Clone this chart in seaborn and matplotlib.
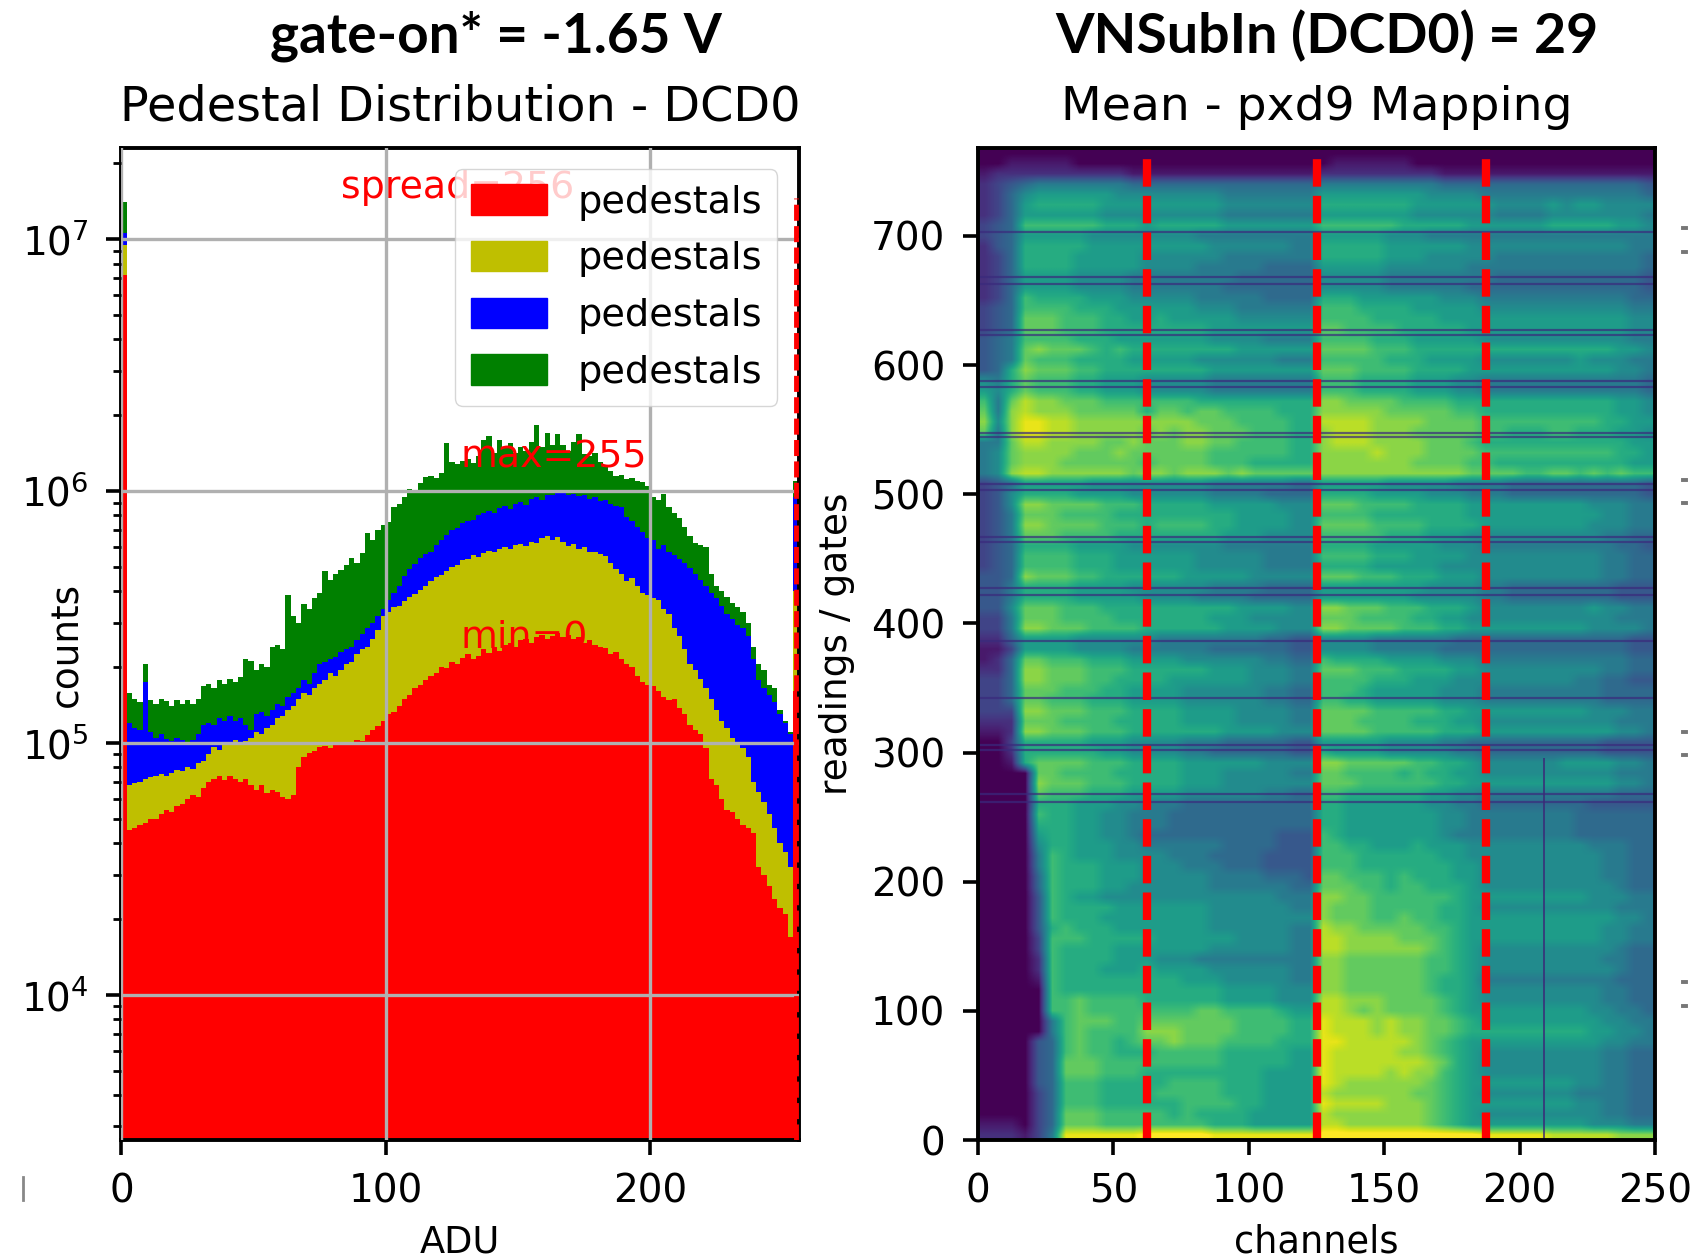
import numpy as np
import pandas as pd
import matplotlib.pyplot as plt
import seaborn as sns
from matplotlib.lines import Line2D

# stacked histogram, upper edge of each colour (thousands of counts)
# bins are 2 ADU wide: 0-2, 2-4 ... 254-256
red_top = [7200, 45, 46, 47, 48, 50, 50, 52, 54, 53, 56, 57, 60, 62, 61, 66, 70, 72, 74, 71, 74, 72, 70, 72, 68, 65, 68, 63, 65, 64, 61, 60, 62,
           80, 88, 91, 93, 96, 97, 95, 99, 101, 100, 98, 103, 102, 107, 112, 117, 122, 130, 132, 140, 150, 155, 165, 170, 178, 185, 190, 200, 198, 210, 205,
           218, 225, 215, 222, 235, 228, 240, 232, 245, 250, 240, 255, 258, 250, 262, 268, 258, 265, 272, 262, 268, 258, 262, 250, 255, 245, 240, 238, 225, 230,
           215, 205, 200, 185, 175, 170, 168, 160, 152, 148, 150, 138, 130, 118, 112, 108, 95, 72, 68, 60, 54, 53, 50, 47, 46, 44, 32, 30, 27, 24, 22, 21, 17, 160]
yellow_top = [9500, 68, 69, 70, 72, 73, 74, 75, 74, 76, 78, 77, 80, 79, 83, 85, 90, 96, 94, 98, 100, 103, 100, 102, 105, 110, 108, 115, 118, 125, 128, 135, 140,
              150, 158, 155, 165, 172, 178, 190, 185, 195, 205, 210, 225, 235, 240, 258, 280, 320, 330, 345, 350, 365, 380, 390, 405, 420, 440, 455, 465, 480, 500, 510,
              530, 535, 555, 545, 565, 580, 570, 590, 600, 590, 610, 615, 605, 630, 620, 650, 660, 640, 655, 625, 605, 615, 590, 600, 575, 570, 560, 550, 520, 490,
              470, 440, 450, 420, 395, 385, 375, 370, 340, 325, 285, 265, 235, 205, 195, 180, 165, 150, 135, 122, 115, 105, 98, 95, 88, 70, 64, 58, 52, 46, 40, 37, 32, 400]
blue_top = [10600, 120, 115, 112, 175, 110, 105, 108, 104, 102, 105, 103, 100, 103, 108, 118, 120, 118, 125, 122, 128, 122, 125, 118, 112, 130, 132, 128, 135, 142, 140, 152, 158,
            165, 178, 172, 190, 205, 210, 215, 220, 230, 235, 240, 255, 270, 285, 300, 320, 340, 370, 395, 420, 460, 490, 515, 540, 560, 575, 610, 640, 670, 700, 710,
            745, 760, 770, 805, 815, 830, 820, 855, 870, 850, 885, 905, 880, 930, 950, 925, 965, 960, 980, 985, 960, 975, 955, 965, 930, 945, 910, 920, 890, 870,
            860, 790, 760, 720, 690, 650, 640, 590, 610, 575, 555, 535, 520, 495, 470, 445, 420, 395, 375, 350, 325, 310, 295, 285, 265, 215, 178, 165, 155, 145, 130, 120, 108, 950]
green_top = [14000, 158, 150, 145, 205, 148, 142, 150, 146, 140, 148, 143, 148, 142, 150, 168, 172, 165, 178, 172, 180, 175, 182, 215, 212, 195, 205, 200, 240, 245, 235, 385, 320,
             300, 355, 340, 375, 395, 480, 445, 470, 485, 510, 540, 520, 565, 680, 640, 700, 730, 750, 860, 890, 950, 1020, 1010, 1080, 1140, 1150, 1130, 1180, 1550, 1300, 1280,
             1310, 1340, 1290, 1380, 1600, 1650, 1420, 1590, 1480, 1550, 1420, 1500, 1440, 1560, 1830, 1500, 1700, 1520, 1680, 1520, 1440, 1560, 1680, 1400, 1380, 1420, 1300, 1250, 1200, 1150,
             1160, 1120, 1130, 1100, 1090, 1050, 950, 920, 970, 860, 820, 780, 720, 660, 620, 610, 600, 470, 420, 400, 380, 360, 345, 330, 300, 240, 205, 195, 170, 165, 135, 122, 110, 1100]

# pedestal mean map, one hex digit per cell (0 dark, f bright)
# rows go from the top of the picture down, 8 gates each; cells are 5 channels wide
# groups: 0-15, 15-65, 65-125, 125-185, 185-250
mean_rows = [
    "000 0000000000 000000000000 000000000000 0000000000000",
    "001 1111000000 000000000000 011111100000 0000000000000",
    "122 2222222211 111111111111 222222222111 1111111111111",
    "234 5666666655 555555555555 666666666555 5555555555554",
    "235 7888888777 777776666666 888888887777 6666666666665",
    "235 8999998888 888887777777 999999988888 8777787887777",
    "235 8888887777 777776666666 888888877777 7666677777776",
    "345 aaaaaa9998 999998888888 aaaaaa999998 8888899999887",
    "345 8888877777 777666666666 888887776666 6666666666666",
    "245 9999988888 888877777766 999998888887 7777777777766",
    "235 9999888887 777776666666 999998887777 7666666666665",
    "235 9999888887 777666665555 888887777776 6666666666665",
    "235 8888777766 666666555555 777776666666 6555555555554",
    "235 8888777766 666665555555 777776666665 5555555555554",
    "235 a999988877 777666665555 999888888777 6666666666655",
    "345 aaaa999888 888777666666 aaa999988888 7777777777766",
    "345 bbbaaa9988 988888777777 aaaa99999888 8888888888877",
    "345 bbbaaa9999 999988888888 bbaaaa999998 8888888888877",
    "456 aaaa999888 888877776666 aaaa99988888 7777777777766",
    "456 bcbbba9a99 999999888888 bbbbaaa99999 9999999999887",
    "456 baaa999988 888777777666 aaaaa9998888 7777777877766",
    "459 cbbbaa9999 999988888888 bbbaaaa99998 8888888888776",
    "769 baaa998887 777766666666 aaa999988877 6666666666665",
    "879 baaa998887 777766666666 aaa999988877 6666666666665",
    "a6b dccbbbaaaa aaa999999999 ccbbbbaaaa99 9999999999887",
    "b6c dcccbbbbb9 bbabbaaaa999 cccccbbbbbaa 9999999999887",
    "c7c eeddcccccc cccbbbaaaa99 ddddccccbbbb aaaaaaaaa9988",
    "b6c eeddcccccb cbccbbbaaa99 cdddcccbbbbb aa999aa999887",
    "66b ddccccbbcb bbccbbaaaa99 cdddccccbbba 9999999999988",
    "67b ccccbbbcbb bbbbaaaaaa99 ccccdcccbbbb aaaaaaaaaa998",
    "67b cccbbbbbba bbbbaaa99999 cccccccbbbba a999999999988",
    "67c ddccccccbc cbcccbcbbbbb cccccccccccb bbbaabbababaa",
    "345 8888877777 777766666655 888887777766 6655555555554",
    "347 9999888877 777766665555 999988887776 6655555555554",
    "347 ccbbbbaaa9 999988888777 bbbaaaa99998 8888888877766",
    "346 bbbaaaa999 999999888877 aaaa99999998 8888888887766",
    "346 ccbbbbaaa9 aaaa99888877 bbbbaaaa9999 8888888877766",
    "346 bbbaaaa999 999998887777 aaaaa9998887 7777777776655",
    "345 9999888877 777776666666 999988888777 6666666666554",
    "345 aaaa999888 888777776666 aaaa99988887 7777777776655",
    "345 aaaa999888 888777776666 999988888777 7777777776655",
    "445 cbbbaa9999 998888877777 bbbaaa999888 7777777776655",
    "446 9999888877 777766665555 888888887777 6655555555444",
    "446 9999888887 777666655555 888888877777 6655555555444",
    "447 bbbaaa9999 999999888877 ccbbbaaa9998 7777777787766",
    "336 bbbaaaa999 999988877777 bbbaaaa99887 7777777777666",
    "336 ccbbbaaaa9 999998888777 ccbbbbaaa998 8888888877776",
    "225 8888777777 666666665544 777766666655 5555555555544",
    "113 8888777766 666655555544 777766666555 5555555555544",
    "125 bbaaa99988 887777776655 a99998888777 6666666666655",
    "225 ccbbbaaa99 999988877766 bbbaaa999988 7777777776655",
    "335 ccbbbaa999 988888877766 aaaa99988877 7777777665544",
    "335 bbbaaa9988 887777776655 aaa988888777 6666666665555",
    "335 bbaaa99988 887777776655 aa9988888777 6666666665555",
    "333 ccbbbaaa99 998888777766 bbbbaaaaa998 8888888877766",
    "222 bbbaaaa999 998888777766 bbbaaaa99988 7777777777666",
    "112 ccbbbaaa99 999998888777 bbbbaaaaa999 8888888888776",
    "003 9999988877 776665555544 888887777665 5555555554444",
    "002 9999998877 776655555544 988887777766 5555555554444",
    "001 9bbbbaaa99 998888887777 ccbbbbbaa998 7777778888776",
    "000 0bbaaaa999 998887777766 bbaaaa9a9988 7777777777666",
    "000 0cbbbaaa99 998887777777 bbbaaaaaa998 8888888888776",
    "000 0baaa99988 887777776655 aa9999998877 6666666666555",
    "000 0999888776 665555555555 998888887766 5555555544444",
    "000 0a99887766 655555555555 998888888776 6666666555555",
    "000 0999887766 655555555555 998888888776 6666666555555",
    "000 0899887765 555555555444 a98888888766 6666666555555",
    "000 0799888776 666665555444 aa9988898887 7777777766655",
    "000 06a9888777 766655554444 aaa999999887 7777777776655",
    "000 06a9998887 776665554444 aaa999999988 7777777776655",
    "000 05a9998887 777766665554 bbaaa9a99988 7777777776655",
    "000 05a9998877 777766666655 bbbaa9aa9998 7777777777655",
    "000 04a9887777 777777777666 ccbbaaaaaa98 8888888877766",
    "000 04a9999888 888877777766 cbbbaaaaa998 7777777777666",
    "000 04a9998888 888877777777 cbbbaabaa998 8888888888776",
    "000 049a999888 888877777766 dccbbbbbaa98 8888888887766",
    "000 03aaa99999 888888777766 ddccccbbba98 8888888887766",
    "000 03a9999888 888877777766 ddccccccba98 7777777777655",
    "000 02a9999888 777666666666 ccbbbbbbaa98 7777777776655",
    "000 02a9998889 888877777766 ccbbbbbbaa98 7777777777655",
    "000 01a9999999 998887777766 ccbbbbbba998 6666666666555",
    "000 00a9999999 999998888777 ccbbbbbba998 7777777776655",
    "000 00aabaaaa9 999998888777 ddcccbbbba98 7777777776655",
    "000 00aabaaaaa aaabbaaaa988 ddcbcbbbba98 8888888877665",
    "000 006abbbaab bbbbbbaaaa99 edddcdccbba9 8888888887766",
    "000 006abaaaac ccbbbbaaaa99 edddcdccbba9 9999999988776",
    "000 045abaa9ab bcbbbaaaa999 eedddddcba98 8888888887766",
    "000 045abaa999 aaaaa9999988 edddddccba98 7777777776655",
    "000 045bbbaaaa aaaaa9999988 edddddddcb98 7777777776655",
    "000 045bbbaaa9 999999998888 eddddcdcca98 7777777776655",
    "000 045aaa9999 9aaaa9998888 edccccccba98 8888888776655",
    "000 035aaa9999 aaaaa9998888 dccccccbba98 7777777666655",
    "000 035aaa9999 99aaaa998888 eddddcccba98 8888888776655",
    "000 035bbbaaaa a9a999988888 dcccccccba98 7777777776655",
    "111 035bbbaaaa aaaa99988888 ddccccccba98 8888888877766",
    "222 136eeeeeef ffffeeeeeeee ffffffffffff eeeeedddddccc",
]
dark_gates = [703, 668, 663, 627, 623, 588, 583, 547, 544, 508, 503, 467, 463, 427, 422, 386, 342, 306, 302, 268, 262]
section_channels = [62.5, 125, 187.5]
dead_channel = 209

adu_centers = np.arange(1, 256, 2)
tops = pd.DataFrame({'r': red_top, 'y': yellow_top, 'b': blue_top, 'g': green_top}) * 1000.0
counts = tops.diff(axis=1).fillna(tops)
counts['adu'] = adu_centers
hist_df = counts.melt(id_vars='adu', var_name='dcd', value_name='counts')

mean_map = np.array([[int(c, 16) for c in row.replace(' ', '')] for row in mean_rows])

plt.rcParams['font.family'] = 'DejaVu Sans'
plt.rcParams['font.size'] = 28
plt.rcParams['axes.linewidth'] = 2.8
plt.rcParams['xtick.major.size'] = 10.5
plt.rcParams['xtick.major.width'] = 2.6
plt.rcParams['ytick.major.size'] = 10.5
plt.rcParams['ytick.major.width'] = 2.6
plt.rcParams['ytick.minor.size'] = 6
plt.rcParams['ytick.minor.width'] = 2

W, H = 1698.0, 1260.0
fig = plt.figure(figsize=(16.98, 12.6), dpi=100)
ax1 = fig.add_axes([121.5 / W, 1 - 1140 / H, 677 / W, 992 / H])
ax2 = fig.add_axes([978 / W, 1 - 1140 / H, 677 / W, 992 / H])

# left panel
sns.histplot(data=hist_df, x='adu', weights='counts', hue='dcd', hue_order=['g', 'b', 'y', 'r'],
             palette={'r': 'r', 'y': 'y', 'b': 'b', 'g': 'g'}, multiple='stack', binwidth=2, binrange=(0, 256),
             element='step', alpha=1, linewidth=0, legend=False, ax=ax1)
ax1.set_yscale('log')
ax1.set_xlim(0, 256)
ax1.set_ylim(2650, 2.3e7)
ax1.set_xticks([0, 100, 200])
ax1.grid(True, color='#b0b0b0', linewidth=2.4)
ax1.set_axisbelow(False)
ax1.vlines(255, 2650, 1.45e7, color='r', linewidth=3.5, linestyle=(0, (3.3, 1.1)), zorder=3)
ax1.text(83, 1.45e7, 'spread=256', color='r', fontsize=27.3, zorder=1.5)
ax1.text(128, 1.24e6, 'max=255', color='r', fontsize=27.3, zorder=4)
ax1.text(128, 2.4e5, 'min=0', color='r', fontsize=27.3, zorder=4)
ax1.set_title('Pedestal Distribution - DCD0', fontsize=34.4, pad=20)
ax1.set_xlabel('ADU', fontsize=26.5, labelpad=9)
ax1.set_ylabel('counts', fontsize=27)
ax1.yaxis.set_label_coords(-0.053, 0.5)
handles = [plt.Rectangle((0, 0), 1, 1, color=c) for c in ['r', 'y', 'b', 'g']]
leg = ax1.legend(handles, ['pedestals'] * 4, loc='upper right', fontsize=27.5, framealpha=0.8,
                 borderaxespad=0.55, handlelength=2, handleheight=0.85, labelspacing=0.53, borderpad=0.4)
leg.set_zorder(5)

# right panel
ax2.imshow(mean_map, cmap='viridis', vmin=0, vmax=14.5, aspect='auto', interpolation='bilinear',
           extent=[0, 250, 0, 768], origin='upper')
ax2.hlines(dark_gates, 0, 250, color='#3a2a7c', linewidth=1.6, alpha=0.7)
ax2.vlines(dead_channel, 0, 296, color='#3b2a78', linewidth=1.4, alpha=0.8)
ax2.vlines(section_channels, 0, 768, color='r', linewidth=6, linestyle=(0, (3.3, 1.1)))
ax2.set_xlim(0, 250)
ax2.set_ylim(0, 768)
ax2.set_xticks([0, 50, 100, 150, 200, 250])
ax2.set_yticks([0, 100, 200, 300, 400, 500, 600, 700])
ax2.set_title('Mean - pxd9 Mapping', fontsize=34, pad=20)
ax2.set_xlabel('channels', fontsize=26.5, labelpad=9)
ax2.set_ylabel('readings / gates', fontsize=27)
ax2.yaxis.set_label_coords(-0.181, 0.5)

for ax in [ax1, ax2]:
    ax.tick_params(axis='both', labelsize=28, pad=13)

fig.text(496 / W, 1 - 36 / H, 'gate-on* = -1.65 V', fontsize=39.5, fontfamily='Lato', fontweight='bold',
         ha='center', va='center')
fig.text(1327 / W, 1 - 36 / H, 'VNSubIn (DCD0) = 29', fontsize=40, fontfamily='Lato', fontweight='bold',
         ha='center', va='center')

# bits of the neighbouring panels' ticks cut off by the crop
for y in [228, 252, 480, 503, 732, 755, 982, 1006]:
    fig.add_artist(Line2D([1683 / W, 1686 / W], [1 - y / H, 1 - y / H], color='#777777', linewidth=2.8))
fig.add_artist(Line2D([23 / W, 23 / W], [1 - 1177 / H, 1 - 1200 / H], color='#888888', linewidth=2))

plt.savefig('out.png', dpi=100)
